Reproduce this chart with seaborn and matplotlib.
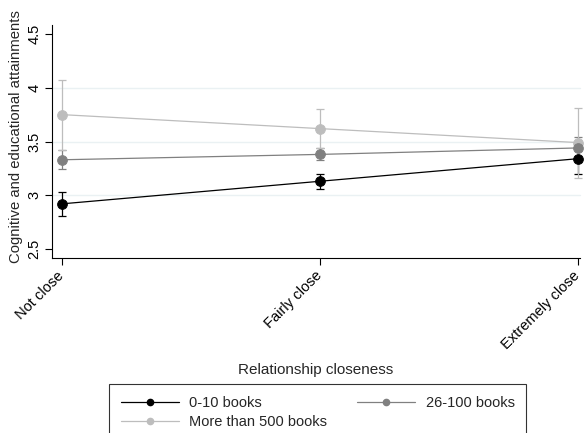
import numpy as np
import pandas as pd
import matplotlib
matplotlib.use("Agg")
import matplotlib.pyplot as plt
import seaborn as sns
from matplotlib.lines import Line2D

# categories and series (means with 95% CI bounds)
closeness = ["Not close", "Fairly close", "Extremely close"]
groups = ["0-10 books", "26-100 books", "More than 500 books"]
colors = ["#000000", "#808080", "#bdbdbd"]

mean_0_10 = [2.92, 3.13, 3.34]
lo_0_10 = [2.81, 3.06, 3.20]
hi_0_10 = [3.03, 3.20, 3.47]

mean_26_100 = [3.33, 3.38, 3.44]
lo_26_100 = [3.24, 3.33, 3.35]
hi_26_100 = [3.42, 3.44, 3.54]

mean_500 = [3.75, 3.62, 3.49]
lo_500 = [3.42, 3.44, 3.16]
hi_500 = [4.07, 3.80, 3.81]

yticks = [2.5, 3, 3.5, 4, 4.5]

means = [mean_0_10, mean_26_100, mean_500]
lows = [lo_0_10, lo_26_100, lo_500]
highs = [hi_0_10, hi_26_100, hi_500]

df = pd.DataFrame({
    "closeness": closeness * len(groups),
    "group": np.repeat(groups, len(closeness)),
    "value": np.concatenate(means),
})

sns.set_style("white")
plt.rcParams["font.family"] = ["Liberation Sans", "DejaVu Sans"]

fig = plt.figure(figsize=(5.84, 4.33), dpi=100)
ax = fig.add_axes([52 / 584, 1 - 258 / 433, 528 / 584, 233 / 433])

# faint gridlines at the interior ticks
for t in yticks[1:-1]:
    ax.axhline(t, color="#eaf1f3", linewidth=1, zorder=0)

# confidence intervals
pos = np.arange(len(closeness))
for g, c, m, lo, hi in zip(groups, colors, means, lows, highs):
    m, lo, hi = np.array(m), np.array(lo), np.array(hi)
    ax.errorbar(pos, m, yerr=[m - lo, hi - m], fmt="none", ecolor=c,
                elinewidth=0.9, capsize=3, capthick=0.9, zorder=1)

sns.pointplot(data=df, x="closeness", y="value", hue="group",
              hue_order=groups[::-1], order=closeness,
              palette=dict(zip(groups, colors)), errorbar=None,
              markers="o", markersize=7, linewidth=0.9, legend=False, ax=ax)

for art in ax.lines + ax.collections:
    art.set_clip_on(False)

ax.set_xlim(-0.039, 2.008)
ax.set_ylim(2.416, 4.584)
ax.set_yticks(yticks)
ax.set_yticklabels([f"{t:g}" for t in yticks], rotation=90, va="center")
ax.set_xticks(pos)
ax.set_xticklabels(closeness, rotation=45, ha="right", va="center",
                   rotation_mode="anchor")
ax.tick_params(bottom=True, left=True, direction="out", length=5, width=0.8,
               color="black", labelsize=10.5, labelcolor="black")
ax.tick_params(axis="y", pad=2.5)
ax.tick_params(axis="x", pad=6)

sns.despine(ax=ax)
for s in ["left", "bottom"]:
    ax.spines[s].set_color("black")
    ax.spines[s].set_linewidth(0.8)

ax.set_xlabel("Relationship closeness", fontsize=11)
ax.xaxis.set_label_coords(0.5, -0.45)
ax.set_ylabel("Cognitive and educational attainments", fontsize=10.7)
ax.yaxis.set_label_coords(-0.055, 0.52)

# legend filled row by row like the original
order = [0, 2, 1]
handles = [Line2D([], [], color=colors[i], marker="o", markersize=4.5,
                  linewidth=0.9) for i in order]
labels = [groups[i] for i in order]
leg = fig.legend(handles, labels, loc="upper left",
                 bbox_to_anchor=(109 / 584, 1 - 384 / 433), ncol=2,
                 frameon=True, fancybox=False, edgecolor="black",
                 handlelength=4.0, handletextpad=0.7, columnspacing=2.05,
                 labelspacing=0.35, borderpad=0.8, borderaxespad=0,
                 fontsize=10.5)
leg.get_frame().set_linewidth(0.8)

fig.savefig("out.png", dpi=100)
